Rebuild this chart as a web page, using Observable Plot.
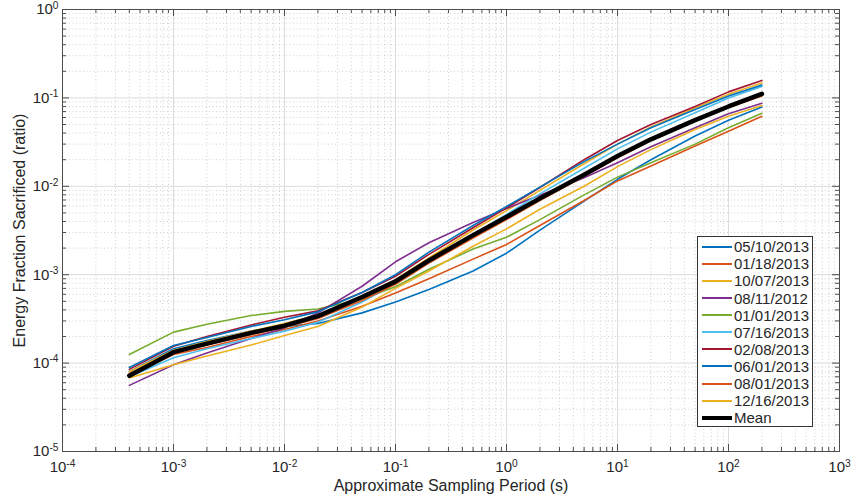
<!DOCTYPE html>
<html><head><meta charset="utf-8">
<script src="https://cdn.jsdelivr.net/npm/d3@7"></script>
<script src="https://cdn.jsdelivr.net/npm/@observablehq/plot@0.6"></script>
<style>
html,body{margin:0;padding:0;background:#fff;}
#chart{position:relative;width:851px;height:502px;font-family:"Liberation Sans",Arial,sans-serif;}
#legend{position:absolute;left:697px;top:236px;width:114px;height:189px;border:1px solid #333;background:#fff;box-sizing:content-box;}
.row{position:absolute;left:0;height:17px;display:flex;align-items:center;font-size:15px;color:#262626;white-space:nowrap;}
.row .sw{width:30px;margin-left:4px;margin-right:2px;}
</style></head><body><div id="chart"><div id="legend"></div></div>
<script>
// Sampling periods (s)
const periods = [4e-4,1e-3,2e-3,5e-3,1e-2,2e-2,5e-2,0.1,0.2,0.5,1,2,5,10,20,50,100,200];

// Series names and colours (legend order)
const seriesNames = ["05/10/2013","01/18/2013","10/07/2013","08/11/2012","01/01/2013","07/16/2013","02/08/2013","06/01/2013","08/01/2013","12/16/2013"];
const seriesColors = ["#0072BD","#D95319","#EDB120","#7E2F8E","#77AC30","#4DBEEE","#A2142F","#0072BD","#D95319","#EDB120"];

// Energy fraction sacrificed per series
const s_05102013 = [8.0e-5,1.45e-4,1.8e-4,2.3e-4,2.6e-4,2.8e-4,3.7e-4,4.9e-4,6.8e-4,1.1e-3,1.75e-3,3.2e-3,6.8e-3,1.2e-2,2.0e-2,3.7e-2,5.6e-2,0.079];
const s_01182013 = [7.2e-5,1.25e-4,1.5e-4,2.0e-4,2.4e-4,3.0e-4,4.4e-4,6.2e-4,9.0e-4,1.5e-3,2.2e-3,3.6e-3,6.9e-3,1.15e-2,1.7e-2,2.85e-2,4.2e-2,0.062];
const s_10072013 = [8.0e-5,1.4e-4,1.75e-4,2.3e-4,2.8e-4,3.5e-4,5.6e-4,8.8e-4,1.55e-3,3.2e-3,5.3e-3,9.0e-3,1.8e-2,3.0e-2,4.7e-2,7.7e-2,0.11,0.147];
const s_08112012 = [5.6e-5,9.6e-5,1.3e-4,1.9e-4,2.5e-4,3.7e-4,7.4e-4,1.4e-3,2.3e-3,3.9e-3,5.6e-3,7.9e-3,1.25e-2,1.85e-2,2.8e-2,4.6e-2,6.6e-2,0.087];
const s_01012013 = [1.25e-4,2.24e-4,2.75e-4,3.45e-4,3.85e-4,4.1e-4,5.3e-4,7.3e-4,1.15e-3,1.95e-3,2.65e-3,4.2e-3,8.0e-3,1.27e-2,1.85e-2,3.0e-2,4.6e-2,0.067];
const s_07162013 = [7.0e-5,1.15e-4,1.45e-4,1.9e-4,2.3e-4,2.9e-4,4.9e-4,8.0e-4,1.4e-3,2.85e-3,4.8e-3,8.2e-3,1.6e-2,2.65e-2,4.1e-2,6.8e-2,0.1,0.135];
const s_02082013 = [8.5e-5,1.55e-4,2.0e-4,2.7e-4,3.3e-4,3.9e-4,6.3e-4,9.6e-4,1.7e-3,3.4e-3,5.7e-3,9.7e-3,2.0e-2,3.3e-2,5.0e-2,8.0e-2,0.117,0.157];
const s_06012013 = [8.9e-5,1.58e-4,1.95e-4,2.6e-4,3.1e-4,3.8e-4,6.3e-4,1.0e-3,1.8e-3,3.6e-3,5.9e-3,9.8e-3,1.9e-2,3.0e-2,4.6e-2,7.4e-2,0.105,0.14];
const s_08012013 = [7.6e-5,1.3e-4,1.6e-4,2.1e-4,2.55e-4,3.2e-4,5.1e-4,7.8e-4,1.35e-3,2.6e-3,4.2e-3,6.9e-3,1.3e-2,2.1e-2,3.3e-2,5.5e-2,7.8e-2,0.105];
const s_12162013 = [6.8e-5,9.6e-5,1.2e-4,1.6e-4,2.05e-4,2.6e-4,4.3e-4,7.0e-4,1.1e-3,2.1e-3,3.3e-3,5.5e-3,1.0e-2,1.67e-2,2.6e-2,4.4e-2,6.2e-2,0.082];
const meanValues = [7.2e-5,1.33e-4,1.66e-4,2.2e-4,2.65e-4,3.4e-4,5.6e-4,8.4e-4,1.45e-3,2.8e-3,4.5e-3,7.3e-3,1.35e-2,2.2e-2,3.4e-2,5.6e-2,8.0e-2,0.111];

// Axis ticks
const xMajor = [1e-4,1e-3,1e-2,1e-1,1e0,1e1,1e2,1e3];
const yMajor = [1e-5,1e-4,1e-3,1e-2,1e-1,1e0];
const minorMults = [2,3,4,5,6,7,8,9];

const xLabel = "Approximate Sampling Period (s)";
const yLabel = "Energy Fraction Sacrificed (ratio)";

const allSeries = [s_05102013,s_01182013,s_10072013,s_08112012,s_01012013,s_07162013,s_02082013,s_06012013,s_08012013,s_12162013];

const xMinor = xMajor.slice(0,-1).flatMap(d => minorMults.map(m => m*d));
const yMinor = yMajor.slice(0,-1).flatMap(d => minorMults.map(m => m*d));

const W = 851, H = 502, mL = 62, mR = 12, mT = 9, mB = 51;
const pw = W - mL - mR, ph = H - mT - mB;
const axisColor = "#4d4d4d";

const lineMarks = allSeries.map((vals, i) =>
  Plot.line(periods.map((p, j) => ({x: p, y: vals[j]})), {x: "x", y: "y", stroke: seriesColors[i], strokeWidth: 1.6, strokeLinejoin: "round"})
);
lineMarks.push(Plot.line(periods.map((p, j) => ({x: p, y: meanValues[j]})), {x: "x", y: "y", stroke: "#000", strokeWidth: 4.5, strokeLinejoin: "round"}));

const expFmt = d => String(Math.round(Math.log10(d)));

const plot = Plot.plot({
  width: W, height: H,
  marginLeft: mL, marginRight: mR, marginTop: mT, marginBottom: mB,
  style: {fontFamily: '"Liberation Sans", Arial, sans-serif', fontSize: "15px", color: "#262626", background: "#fff"},
  x: {type: "log", domain: [1e-4, 1e3]},
  y: {type: "log", domain: [1e-5, 1]},
  marks: [
    Plot.ruleX(xMinor, {x: d => d, stroke: "#c4c4c4", strokeWidth: 0.8, strokeDasharray: "1,2.5"}),
    Plot.ruleY(yMinor, {y: d => d, stroke: "#c4c4c4", strokeWidth: 0.8, strokeDasharray: "1,2.5"}),
    Plot.ruleX(xMajor, {x: d => d, stroke: "#dcdcdc", strokeWidth: 1}),
    Plot.ruleY(yMajor, {y: d => d, stroke: "#dcdcdc", strokeWidth: 1}),
    ...lineMarks,
    Plot.frame({stroke: axisColor, strokeWidth: 1}),
    // inward ticks on all four sides
    Plot.tickX(xMajor, {x: d => d, insetTop: ph - 7, stroke: axisColor}),
    Plot.tickX(xMajor, {x: d => d, insetBottom: ph - 7, stroke: axisColor}),
    Plot.tickX(xMinor, {x: d => d, insetTop: ph - 4, stroke: axisColor}),
    Plot.tickX(xMinor, {x: d => d, insetBottom: ph - 4, stroke: axisColor}),
    Plot.tickY(yMajor, {y: d => d, insetRight: pw - 7, stroke: axisColor}),
    Plot.tickY(yMajor, {y: d => d, insetLeft: pw - 7, stroke: axisColor}),
    Plot.tickY(yMinor, {y: d => d, insetRight: pw - 4, stroke: axisColor}),
    Plot.tickY(yMinor, {y: d => d, insetLeft: pw - 4, stroke: axisColor}),
    Plot.axisX({ticks: xMajor, tickSize: 0, tickPadding: 10, tickFormat: expFmt, label: null, fontSize: 15}),
    Plot.axisY({ticks: yMajor, tickSize: 0, tickPadding: 4, tickFormat: expFmt, label: null, fontSize: 15}),
    Plot.text([xLabel], {frameAnchor: "bottom", lineAnchor: "middle", textAnchor: "middle", dy: 34, text: d => d, fontSize: 16, fill: "#262626"}),
    Plot.text([yLabel], {frameAnchor: "left", lineAnchor: "middle", textAnchor: "middle", dx: -43, rotate: -90, text: d => d, fontSize: 16, fill: "#262626"})
  ]
});

// superscript exponents: 10^n
d3.select(plot).selectAll('g[aria-label="x-axis tick label"] text, g[aria-label="y-axis tick label"] text').each(function() {
  const e = this.textContent;
  const t = d3.select(this);
  t.text(null);
  t.append("tspan").text("10");
  t.append("tspan").attr("dy", "-0.55em").attr("font-size", "0.68em").text(e);
});

const chart = document.getElementById("chart");
chart.insertBefore(plot, chart.firstChild);
plot.style.position = "absolute"; plot.style.left = "0"; plot.style.top = "0";

// legend
const legend = document.getElementById("legend");
const names = [...seriesNames, "Mean"];
const colors = [...seriesColors, "#000"];
names.forEach((n, i) => {
  const row = document.createElement("div");
  row.className = "row";
  row.style.top = (1.2 + i * 17.1) + "px";
  const sw = document.createElement("div");
  sw.className = "sw";
  sw.style.borderTop = (i === names.length - 1 ? 4 : 2) + "px solid " + colors[i];
  row.appendChild(sw);
  const tx = document.createElement("span");
  tx.textContent = n;
  row.appendChild(tx);
  legend.appendChild(row);
});
</script></body></html>
